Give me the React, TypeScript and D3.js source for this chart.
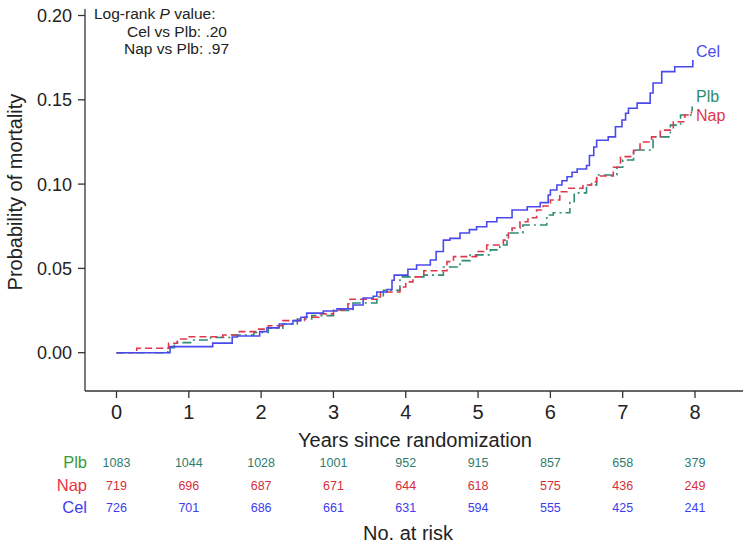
import React from "react";
import * as d3 from "d3";

const years = [0, 1, 2, 3, 4, 5, 6, 7, 8];
const yTicks = [0, 0.05, 0.1, 0.15, 0.2];

const celTimes = [0, 0.74, 1.33, 1.6, 1.67, 1.98, 2.08, 2.25, 2.44, 2.55, 2.63, 2.86, 3.05, 3.27, 3.41, 3.55, 3.6, 3.74, 3.81, 3.84, 4.03, 4.15, 4.34, 4.42, 4.52, 4.61, 4.75, 4.88, 4.98, 5.12, 5.26, 5.47, 5.68, 5.86, 5.97, 6.0, 6.09, 6.16, 6.23, 6.3, 6.37, 6.5, 6.54, 6.6, 6.64, 6.8, 6.9, 6.99, 7.04, 7.08, 7.2, 7.38, 7.42, 7.54, 7.72, 7.97];
const celProb = [0, 0.0036, 0.0057, 0.0093, 0.0099, 0.0125, 0.0147, 0.017, 0.019, 0.021, 0.0235, 0.0247, 0.026, 0.0283, 0.0324, 0.0335, 0.036, 0.0375, 0.043, 0.046, 0.0495, 0.052, 0.055, 0.06, 0.0668, 0.0678, 0.071, 0.073, 0.0747, 0.0777, 0.08, 0.0846, 0.0866, 0.089, 0.0935, 0.0965, 0.0995, 0.102, 0.1044, 0.107, 0.109, 0.111, 0.117, 0.122, 0.126, 0.128, 0.134, 0.138, 0.142, 0.145, 0.148, 0.154, 0.16, 0.1667, 0.1696, 0.1736];

const napTimes = [0, 0.28, 0.72, 0.84, 0.97, 1.47, 1.7, 1.95, 2.1, 2.3, 2.6, 2.8, 3.0, 3.2, 3.23, 3.65, 3.92, 4.0, 4.1, 4.25, 4.57, 4.66, 4.98, 5.12, 5.35, 5.42, 5.47, 5.58, 5.69, 5.81, 5.9, 6.0, 6.13, 6.23, 6.45, 6.57, 6.64, 6.87, 6.97, 7.15, 7.24, 7.4, 7.52, 7.7, 7.86, 7.95];
const napProb = [0, 0.0026, 0.0056, 0.0081, 0.0095, 0.0105, 0.0125, 0.014, 0.016, 0.019, 0.021, 0.023, 0.0253, 0.029, 0.0317, 0.036, 0.039, 0.042, 0.045, 0.0486, 0.054, 0.057, 0.06, 0.0639, 0.0668, 0.071, 0.074, 0.0777, 0.08, 0.0846, 0.087, 0.0906, 0.0955, 0.0975, 0.0995, 0.1014, 0.1048, 0.11, 0.1163, 0.12, 0.125, 0.128, 0.132, 0.137, 0.141, 0.143];

const plbTimes = [0, 0.71, 0.8, 1.05, 1.3, 1.6, 1.9, 2.1, 2.3, 2.5, 2.7, 3.0, 3.27, 3.6, 3.69, 3.92, 4.25, 4.52, 4.75, 4.89, 5.17, 5.3, 5.4, 5.62, 5.95, 6.04, 6.27, 6.33, 6.5, 6.64, 6.92, 7.0, 7.15, 7.42, 7.66, 7.8, 7.96];
const plbProb = [0, 0.003, 0.006, 0.0075, 0.009, 0.0105, 0.012, 0.0145, 0.017, 0.02, 0.022, 0.025, 0.0295, 0.033, 0.037, 0.045, 0.046, 0.0508, 0.0546, 0.058, 0.061, 0.0639, 0.071, 0.0757, 0.0817, 0.083, 0.089, 0.0948, 0.0995, 0.1054, 0.11, 0.1143, 0.1202, 0.128, 0.135, 0.141, 0.146];

const riskLabels = ["Plb", "Nap", "Cel"];
const plbRisk = [1083, 1044, 1028, 1001, 952, 915, 857, 658, 379];
const napRisk = [719, 696, 687, 671, 644, 618, 575, 436, 249];
const celRisk = [726, 701, 686, 661, 631, 594, 555, 425, 241];

const FONT = "'Liberation Sans', Arial, Helvetica, sans-serif";

export default function App() {
  const x = d3.scaleLinear().domain([0, 8]).range([116.5, 695]);
  const y = d3.scaleLinear().domain([0, 0.2]).range([352.7, 15.5]);
  const line = d3
    .line<[number, number]>()
    .x((d) => x(d[0]))
    .y((d) => y(d[1]))
    .curve(d3.curveStepAfter);
  const toPts = (t: number[], p: number[]) => t.map((v, i) => [v, p[i]] as [number, number]);

  const series = [
    { name: "Plb", pts: toPts(plbTimes, plbProb), color: "#2e8b74", dash: "9,4,2,4", labelY: 102 },
    { name: "Nap", pts: toPts(napTimes, napProb), color: "#e0374a", dash: "7,4", labelY: 121 },
    { name: "Cel", pts: toPts(celTimes, celProb), color: "#4a4aec", dash: undefined, labelY: 57 },
  ];
  const riskRows = [
    { label: riskLabels[0], vals: plbRisk, labelColor: "#3a9a3a", color: "#2e7d6e", yb: 468 },
    { label: riskLabels[1], vals: napRisk, labelColor: "#e8343f", color: "#d62f40", yb: 491 },
    { label: riskLabels[2], vals: celRisk, labelColor: "#3d3df0", color: "#3d3df0", yb: 513 },
  ];

  return (
    <svg width={750} height={548} style={{ position: "absolute", left: 0, top: 0, background: "#fff" }} fontFamily={FONT}>
      {/* axes */}
      <line x1={85} y1={9} x2={85} y2={391} stroke="#333" strokeWidth={1.3} />
      <line x1={85} y1={391} x2={743} y2={391} stroke="#333" strokeWidth={1.3} />
      {yTicks.map((t) => (
        <g key={"y" + t}>
          <line x1={78} x2={85} y1={y(t)} y2={y(t)} stroke="#333" strokeWidth={1.3} />
          <text x={72} y={y(t) + 6.5} textAnchor="end" fontSize={18} fill="#222">
            {t.toFixed(2)}
          </text>
        </g>
      ))}
      {years.map((t) => (
        <g key={"x" + t}>
          <line x1={x(t)} x2={x(t)} y1={391} y2={398} stroke="#333" strokeWidth={1.3} />
          <text x={x(t)} y={419} textAnchor="middle" fontSize={20} fill="#222">
            {t}
          </text>
        </g>
      ))}
      <text x={415} y={447} textAnchor="middle" fontSize={20} fill="#222">
        Years since randomization
      </text>
      <text transform="translate(22,192) rotate(-90)" textAnchor="middle" fontSize={20} fill="#222">
        Probability of mortality
      </text>

      {/* curves */}
      {series.map((s) => (
        <path key={s.name} d={line(s.pts) || ""} fill="none" stroke={s.color} strokeWidth={1.6} strokeDasharray={s.dash} />
      ))}
      {series.map((s) => (
        <text key={"l" + s.name} x={696} y={s.labelY} fontSize={16} fill={s.color}>
          {s.name}
        </text>
      ))}

      {/* annotation */}
      <text x={94} y={19} fontSize={15.5} fill="#222">
        Log-rank <tspan fontStyle="italic">P</tspan> value:
      </text>
      <text x={127} y={36.5} fontSize={15.5} fill="#222">
        Cel vs Plb: .20
      </text>
      <text x={124} y={54} fontSize={15.5} fill="#222">
        Nap vs Plb: .97
      </text>

      {/* risk table */}
      {riskRows.map((r) => (
        <g key={"r" + r.label}>
          <text x={87} y={r.yb} textAnchor="end" fontSize={16.5} fill={r.labelColor}>
            {r.label}
          </text>
          {r.vals.map((v, i) => (
            <text key={i} x={x(years[i])} y={r.yb - 1} textAnchor="middle" fontSize={12.5} fill={r.color}>
              {v}
            </text>
          ))}
        </g>
      ))}
      <text x={408} y={540} textAnchor="middle" fontSize={20} fill="#222">
        No. at risk
      </text>
    </svg>
  );
}
